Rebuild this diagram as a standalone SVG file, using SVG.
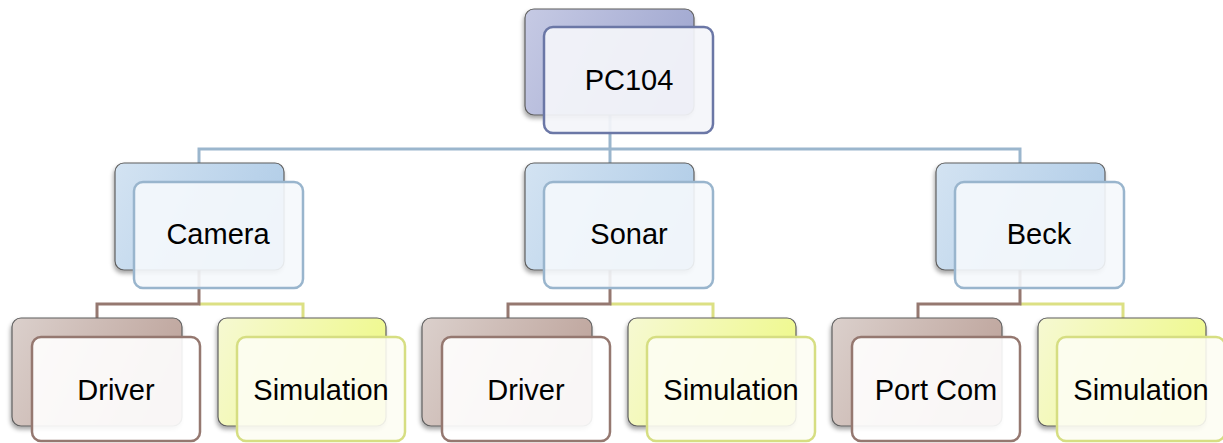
<svg xmlns="http://www.w3.org/2000/svg" width="1223" height="443" viewBox="0 0 1223 443">
<defs>
  <linearGradient id="gPurple" x1="0" y1="0" x2="1" y2="0.3">
    <stop offset="0" stop-color="#c6cae4"/>
    <stop offset="1" stop-color="#a2a9d1"/>
  </linearGradient>
  <linearGradient id="gBlue" x1="0" y1="0" x2="1" y2="0.3">
    <stop offset="0" stop-color="#d3e3f2"/>
    <stop offset="1" stop-color="#b3cee8"/>
  </linearGradient>
  <linearGradient id="gBrown" x1="0" y1="0" x2="1" y2="0.3">
    <stop offset="0" stop-color="#dbd0cc"/>
    <stop offset="1" stop-color="#bfa69e"/>
  </linearGradient>
  <linearGradient id="gYellow" x1="0" y1="0" x2="1" y2="0.3">
    <stop offset="0" stop-color="#f6f9d2"/>
    <stop offset="1" stop-color="#eff98e"/>
  </linearGradient>
  <filter id="sh" x="-10%" y="-10%" width="125%" height="130%">
    <feDropShadow dx="-1" dy="3" stdDeviation="2" flood-color="#000" flood-opacity="0.35"/>
  </filter>
</defs>
<style>
  .back { stroke: #5f5f5f; stroke-width: 1.2; filter: url(#sh); }
  .front { stroke-width: 2.5; }
  .pf { fill: #f4f5fa; fill-opacity: 0.92; stroke: #6b77a6; }
  .bf { fill: #f5f8fc; fill-opacity: 0.9; stroke: #99b5cd; }
  .rf { fill: #ffffff; fill-opacity: 0.9; stroke: #957870; }
  .yf { fill: #fdfdf3; fill-opacity: 0.9; stroke: #d6de82; }
  .lbl { font-family: "Liberation Sans", Arial, sans-serif; font-size: 29px; fill: #000; text-anchor: middle; }
  .cb { fill: none; stroke: #9bb6cd; stroke-width: 3; }
  .cr { fill: none; stroke: #957870; stroke-width: 3; }
  .cy { fill: none; stroke: #dce084; stroke-width: 3; }
</style>
<g id="connectors">
  <path class="cb" d="M610,115 V163 M199,163 V149 H1020 V163"/>
  <path class="cy" d="M199,304 H303 V318"/>
  <path class="cr" d="M199,270 V304 H97 V318"/>
  <path class="cy" d="M610,304 H713 V318"/>
  <path class="cr" d="M610,270 V304 H508 V318"/>
  <path class="cy" d="M1020,304 H1123 V318"/>
  <path class="cr" d="M1020,270 V304 H918 V318"/>
</g>
<g id="pc104">
  <rect class="back" x="525" y="9" width="169" height="106" rx="9" fill="url(#gPurple)"/>
  <rect class="front pf" x="544" y="27" width="169" height="106" rx="9"/>
  <text class="lbl" x="629" y="90">PC104</text>
</g>
<g id="camera">
  <rect class="back" x="115" y="163" width="169" height="107" rx="9" fill="url(#gBlue)"/>
  <rect class="front bf" x="134" y="182" width="169" height="106" rx="9"/>
  <text class="lbl" x="218" y="244">Camera</text>
</g>
<g id="sonar">
  <rect class="back" x="525" y="163" width="169" height="107" rx="9" fill="url(#gBlue)"/>
  <rect class="front bf" x="544" y="182" width="169" height="106" rx="9"/>
  <text class="lbl" x="629" y="244">Sonar</text>
</g>
<g id="beck">
  <rect class="back" x="936" y="163" width="169" height="107" rx="9" fill="url(#gBlue)"/>
  <rect class="front bf" x="955" y="182" width="169" height="106" rx="9"/>
  <text class="lbl" x="1039" y="244">Beck</text>
</g>
<g id="camera-driver">
  <rect class="back" x="12" y="318" width="170" height="108" rx="9" fill="url(#gBrown)"/>
  <rect class="front rf" x="32" y="337" width="168" height="104" rx="9"/>
  <text class="lbl" x="116" y="400">Driver</text>
</g>
<g id="camera-simulation">
  <rect class="back" x="218" y="318" width="168" height="108" rx="9" fill="url(#gYellow)"/>
  <rect class="front yf" x="237" y="337" width="168" height="104" rx="9"/>
  <text class="lbl" x="321" y="400">Simulation</text>
</g>
<g id="sonar-driver">
  <rect class="back" x="422" y="318" width="170" height="108" rx="9" fill="url(#gBrown)"/>
  <rect class="front rf" x="442" y="337" width="168" height="104" rx="9"/>
  <text class="lbl" x="526" y="400">Driver</text>
</g>
<g id="sonar-simulation">
  <rect class="back" x="628" y="318" width="168" height="108" rx="9" fill="url(#gYellow)"/>
  <rect class="front yf" x="647" y="337" width="168" height="104" rx="9"/>
  <text class="lbl" x="731" y="400">Simulation</text>
</g>
<g id="beck-portcom">
  <rect class="back" x="832" y="318" width="170" height="108" rx="9" fill="url(#gBrown)"/>
  <rect class="front rf" x="852" y="337" width="168" height="104" rx="9"/>
  <text class="lbl" x="936" y="400">Port Com</text>
</g>
<g id="beck-simulation">
  <rect class="back" x="1038" y="318" width="168" height="108" rx="9" fill="url(#gYellow)"/>
  <rect class="front yf" x="1057" y="337" width="168" height="104" rx="9"/>
  <text class="lbl" x="1141" y="400">Simulation</text>
</g>
</svg>
